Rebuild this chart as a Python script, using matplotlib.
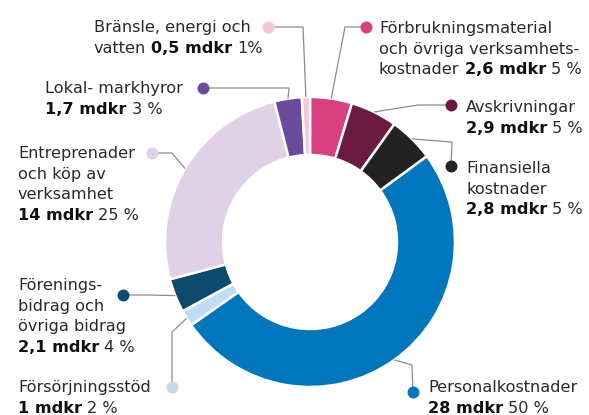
import matplotlib
matplotlib.use("Agg")
import matplotlib.pyplot as plt
import numpy as np

# kostnader i mdkr, medurs från toppen
names = ["Förbrukningsmaterial", "Avskrivningar", "Finansiella kostnader",
         "Personalkostnader", "Försörjningsstöd", "Föreningsbidrag",
         "Entreprenader", "Lokal- markhyror", "Bränsle, energi och vatten"]
values = [2.6, 2.9, 2.8, 28, 1, 2.1, 14, 1.7, 0.5]
colors = ["#d8407f", "#6b1b40", "#222222", "#0077bc", "#bfdcf2",
          "#0c4b6d", "#e0d1e7", "#6a4b9c", "#f5c7d7"]

# label lines: list of (text, bold) pieces per line
labels = [
    [[("Förbrukningsmaterial", 0)], [("och övriga verksamhets-", 0)],
     [("kostnader ", 0), ("2,6 mdkr", 1), (" 5 %", 0)]],
    [[("Avskrivningar", 0)], [("2,9 mdkr", 1), (" 5 %", 0)]],
    [[("Finansiella", 0)], [("kostnader", 0)], [("2,8 mdkr", 1), (" 5 %", 0)]],
    [[("Personalkostnader", 0)], [("28 mdkr", 1), (" 50 %", 0)]],
    [[("Försörjningsstöd", 0)], [("1 mdkr", 1), (" 2 %", 0)]],
    [[("Förenings-", 0)], [("bidrag och", 0)], [("övriga bidrag", 0)],
     [("2,1 mdkr", 1), (" 4 %", 0)]],
    [[("Entreprenader", 0)], [("och köp av", 0)], [("verksamhet", 0)],
     [("14 mdkr", 1), (" 25 %", 0)]],
    [[("Lokal- markhyror", 0)], [("1,7 mdkr", 1), (" 3 %", 0)]],
    [[("Bränsle, energi och", 0)], [("vatten ", 0), ("0,5 mdkr", 1), (" 1%", 0)]],
]

W, H = 589, 415
def P(x, y):
    return x, H - y

# text start (x, first baseline), dot position, leader elbow points (pixels from top-left)
text_pos = [(379, 33), (466, 112), (466, 173), (428, 392), (18, 392),
            (18, 290), (18, 158), (45, 93), (94, 32)]
dot_pos = [(366, 27), (451, 105), (451, 166), (413, 392), (172, 387),
           (123, 295), (152, 153), (203, 88), (268, 27)]
elbows = [[(345, 27)], [(418, 105)], [(452, 142)], [(412, 365)], [(172, 332)],
          [(148, 295)], [(172, 153)], [(289, 88)], [(303, 27)]]

fig = plt.figure(figsize=(W / 100, H / 100), dpi=100)
ax = fig.add_axes([0, 0, 1, 1])
ax.axis("off")

cx, cy = P(310, 242)
R = 145
wedges, _ = ax.pie(values, colors=colors, startangle=90, counterclock=False,
                   center=(cx, cy), radius=R,
                   wedgeprops=dict(width=R * 0.4, edgecolor="white", linewidth=1.8))
ax.set_xlim(0, W)
ax.set_ylim(0, H)
ax.set_aspect("equal")

fam = "DejaVu Sans"
fs = 11.6
lh = 20.6
renderer = fig.canvas.get_renderer()

def width(s, bold):
    t = ax.text(0, 0, s, fontsize=fs, family=fam, weight="bold" if bold else "normal")
    w = t.get_window_extent(renderer).width
    t.remove()
    return w

sp = {0: width("a a", 0) - width("aa", 0), 1: width("a a", 1) - width("aa", 1)}

for i, w in enumerate(wedges):
    tx, ty = text_pos[i]
    for j, line in enumerate(labels[i]):
        x = tx
        for s, b in line:
            x += (len(s) - len(s.lstrip(" "))) * sp[b]
            t = ax.text(x, H - (ty + j * lh), s.strip(" "), fontsize=fs, family=fam,
                        weight="bold" if b else "normal",
                        color="#111111" if b else "#2a2a2a", va="baseline", ha="left")
            x += t.get_window_extent(renderer).width
            x += (len(s) - len(s.rstrip(" "))) * sp[b]
    # leader from the wedge's mid-angle
    mid = np.deg2rad((w.theta1 + w.theta2) / 2)
    ax_pt = (cx + R * np.cos(mid), cy + R * np.sin(mid))
    pts = [P(*dot_pos[i])] + [P(*e) for e in elbows[i]] + [ax_pt]
    ax.plot([p[0] for p in pts], [p[1] for p in pts], color="#8c8c8c", lw=0.9,
            zorder=1, solid_capstyle="butt")
    ax.plot(*P(*dot_pos[i]), "o", ms=8.6, color=colors[i], mec="none", zorder=3)

fig.savefig("out.png", dpi=100)
